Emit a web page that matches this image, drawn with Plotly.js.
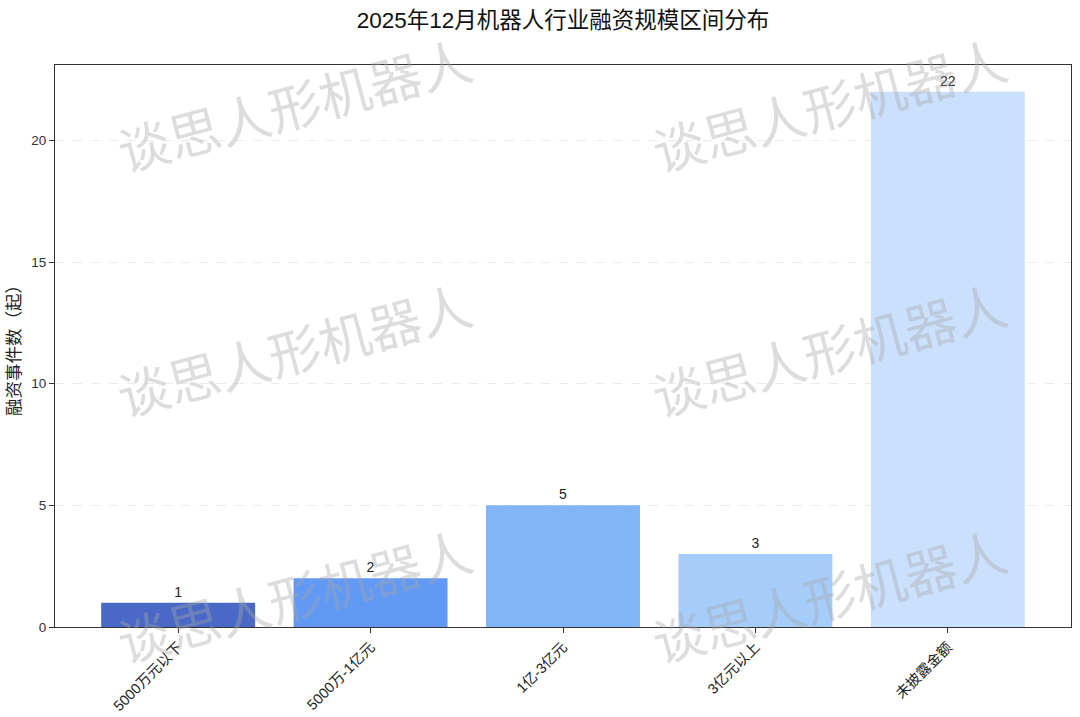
<!DOCTYPE html>
<html>
<head>
<meta charset="utf-8">
<script src="https://cdn.plot.ly/plotly-3.0.1.min.js"></script>
<style>html,body{margin:0;padding:0;background:#fff;}#chart{width:1080px;height:717px;}</style>
</head>
<body>
<div id="chart"></div>
<script>
const categories = ["5000万元以下", "5000万-1亿元", "1亿-3亿元", "3亿元以上", "未披露金额"];
const counts = [1, 2, 5, 3, 22];
const barColors = ["#4a69c6", "#6199f5", "#80b6f8", "#a6cdfa", "#cbe0fc"];
const yTicks = [0, 5, 10, 15, 20];
const titleText = "2025年12月机器人行业融资规模区间分布";
const yTitle = "融资事件数（起）";
const watermarkText = "谈思人形机器人";

const FONT = "Liberation Sans, Arial, Noto Sans CJK SC, sans-serif";

const trace = {
  type: "bar",
  x: categories,
  y: counts,
  marker: {color: barColors, line: {width: 0}},
  width: 0.8,
  text: counts.map(String),
  textposition: "outside",
  textfont: {family: FONT, size: 14, color: "#222"},
  cliponaxis: false,
  hoverinfo: "skip"
};

const annotations = [];
const plotL = 55, plotR = 1071, plotT = 65, plotB = 627;
const wmPx = [[294, 103], [829, 103], [294, 349], [829, 349], [294, 594], [829, 594]];
wmPx.forEach(p => {
  annotations.push({
    text: watermarkText,
    xref: "paper", yref: "paper",
    x: (p[0] - plotL) / (plotR - plotL),
    y: (plotB - p[1]) / (plotB - plotT),
    xanchor: "center", yanchor: "middle",
    showarrow: false,
    textangle: -15,
    font: {family: "Noto Sans CJK SC, sans-serif", size: 52, color: "rgba(165,165,165,0.38)"}
  });
});

const layout = {
  width: 1080, height: 717,
  margin: {l: 55, r: 9, t: 65, b: 90},
  paper_bgcolor: "#ffffff",
  plot_bgcolor: "#ffffff",
  font: {family: FONT, color: "#222"},
  title: {text: titleText, x: 0.5, xref: "paper", y: 0.972, yanchor: "middle",
          font: {family: "Liberation Sans, Noto Sans CJK SC, sans-serif", size: 22.5, color: "#111"}},
  xaxis: {
    type: "category",
    range: [-0.64, 4.64],
    tickangle: -45,
    ticks: "outside", ticklen: 5, tickcolor: "#333",
    tickfont: {family: FONT, size: 14.5, color: "#222"},
    showline: true, linecolor: "#333", linewidth: 1, mirror: true,
    showgrid: false, zeroline: false
  },
  yaxis: {
    range: [0, 23.1],
    tickvals: yTicks,
    ticktext: yTicks.map(String),
    ticks: "outside", ticklen: 5, tickcolor: "#333",
    tickfont: {family: FONT, size: 13.5, color: "#333"},
    showline: true, linecolor: "#333", linewidth: 1, mirror: true,
    showgrid: true, gridcolor: "#ebebeb", griddash: "dash", gridwidth: 1,
    zeroline: false,
    title: {text: yTitle, standoff: 10, font: {family: "Noto Sans CJK SC, sans-serif", size: 17.5, color: "#222"}}
  },
  bargap: 0.2,
  showlegend: false,
  annotations: annotations
};

Plotly.newPlot("chart", [trace], layout, {displayModeBar: false, staticPlot: true});
</script>
</body>
</html>
